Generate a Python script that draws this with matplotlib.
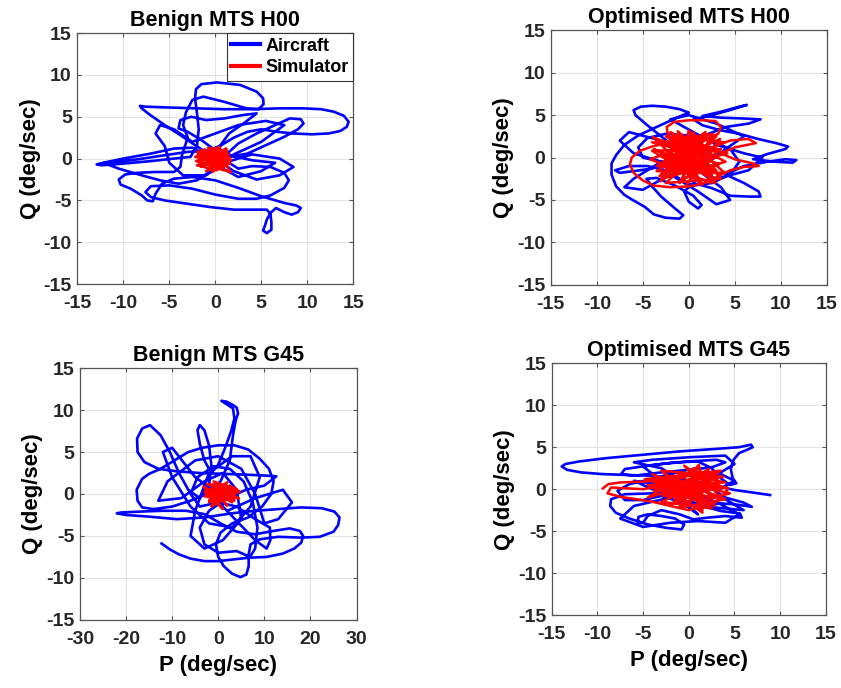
import numpy as np
import matplotlib
matplotlib.use('Agg')
import matplotlib.pyplot as plt

plt.rcParams['font.family'] = ['Liberation Sans', 'DejaVu Sans']
plt.rcParams['font.weight'] = 'bold'
plt.rcParams['axes.unicode_minus'] = False

# --- Benign MTS H00: aircraft (P, Q) trace in deg/sec
h00_benign_ac = [
    (0.5, -0.5), (-0.8, 0.6), (-2.2, 1.6), (-3.8, 2.8), (-5.5, 4.0), (-7.2, 5.3), (-8.0, 6.0), (-8.2, 6.3),
    (-7.6, 6.2), (-5.0, 6.1), (-2.0, 6.0), (1.0, 5.9), (4.0, 5.9), (7.0, 6.0), (9.6, 6.0), (11.5, 5.9),
    (12.9, 5.6), (14.0, 5.1), (14.5, 4.4), (14.3, 3.8), (13.6, 3.3), (12.3, 3.0), (10.5, 2.9), (8.5, 3.0),
    (6.7, 3.2), (5.0, 3.5), (3.5, 3.2), (2.0, 2.5), (0.5, 1.5), (-1.0, 0.9),
    (-3.0, 0.8), (-5.5, 0.4), (-8.5, -0.1), (-11.0, -0.4), (-12.6, -0.6), (-12.9, -0.7), (-12.4, -0.8),
    (-10.0, -0.6), (-7.0, -0.3), (-4.5, 0.0), (-2.7, 0.2),
    (-2.0, 1.5), (-1.8, 3.5), (-2.0, 5.5), (-2.2, 7.2), (-2.1, 8.3), (-1.5, 8.9), (0.2, 9.1), (2.7, 8.8),
    (4.5, 8.0), (5.2, 7.2), (5.25, 6.5), (4.7, 5.9), (3.4, 6.0), (0.9, 6.8), (-1.3, 7.4), (-2.5, 7.0),
    (-3.2, 5.5), (-3.5, 4.0), (-3.0, 2.5),
    (-3.6, 0.5), (-3.8, -1.0), (-4.5, -1.6), (-6.5, -1.6), (-8.5, -1.7), (-9.8, -1.9), (-10.5, -2.5),
    (-10.3, -3.1), (-9.2, -3.6), (-8.0, -4.4), (-7.4, -5.0), (-6.8, -5.1), (-6.5, -4.2), (-5.8, -3.0),
    (-4.5, -2.4), (-2.5, -2.2), (0.0, -2.6), (2.5, -3.5), (5.0, -4.5), (7.5, -5.3), (8.8, -5.6), (9.3, -5.9),
    (9.0, -6.4), (8.3, -6.7), (7.5, -6.4), (6.6, -5.9), (6.0, -6.5), (5.6, -7.3), (5.4, -8.0), (5.2, -8.6),
    (5.6, -8.9), (6.1, -8.5), (6.1, -7.6), (6.0, -6.6), (5.6, -6.1), (4.0, -6.1), (2.0, -6.1), (-0.5, -5.8),
    (-3.0, -5.4), (-5.5, -5.0), (-7.0, -4.6), (-7.6, -4.0), (-7.0, -3.3), (-5.0, -3.2), (-2.5, -3.6),
    (0.0, -4.3), (2.5, -4.8), (4.5, -4.8), (6.0, -4.4), (7.5, -3.5), (8.0, -2.6), (7.5, -1.7), (6.0, -1.0),
    (4.0, -0.9), (2.5, -1.2), (1.5, -0.5), (1.2, 0.5),
    (2.5, 1.8), (4.5, 3.0), (6.5, 4.0), (8.1, 4.8), (9.3, 4.7), (9.6, 4.2), (9.0, 3.5), (7.5, 2.6),
    (5.5, 1.6), (3.5, 0.6), (2.0, 0.3),
    (0.0, 1.0), (-1.5, 2.2), (-3.0, 3.2), (-4.0, 3.6), (-3.8, 4.6), (-2.6, 5.0), (-1.0, 4.6), (1.0, 4.8),
    (3.0, 5.2), (4.5, 5.4), (3.2, 4.3), (1.5, 3.0), (0.5, 1.5), (0.5, 0.0), (-0.5, -1.5), (-2.0, -2.6),
    (-4.0, -3.0), (-6.0, -2.6), (-8.0, -2.0), (-10.5, -1.2), (-12.2, -0.5), (-10.0, 0.0), (-7.0, 0.6),
    (-4.5, 1.2), (-2.5, 1.3), (-1.0, 0.4), (0.0, 0.0),
    (2.0, -1.5), (4.5, -2.5), (7.0, -2.0), (8.5, -1.0), (7.0, 0.0), (4.0, 0.5), (1.0, -0.5), (-1.0, -2.0),
    (-3.5, -2.0), (-5.0, -0.5), (-5.5, 1.5), (-6.5, 3.0), (-6.0, 4.0), (-4.5, 3.5), (-2.5, 2.0), (0.0, 3.0),
    (2.5, 4.0), (5.5, 4.5), (7.5, 4.0), (5.0, 2.0), (2.0, 0.5), (0.5, -1.0), (2.5, -2.2), (5.0, -1.5),
    (6.5, -0.5), (4.0, -0.2), (1.0, 0.5),
]
h00_benign_sim = [
    (-0.5, 0.0), (1.2, 1.2), (-1.8, -0.5), (0.8, -1.2), (-2.0, 0.8), (1.5, 0.3), (-1.0, -1.5), (1.6, -0.6),
    (-2.2, 0.2), (0.5, 1.4), (-1.5, -1.0), (1.3, 0.9), (-0.8, 1.3), (1.7, -0.2), (-2.0, -0.8), (0.2, -1.4),
    (-1.2, 1.1), (1.0, -0.9), (-1.9, 0.5), (1.4, 0.6), (-0.3, -1.6), (1.6, 0.1), (-1.6, 1.0), (0.9, -1.1),
    (-2.1, -0.3), (1.2, 1.1), (0.0, -1.2), (1.5, -0.4), (-1.4, 0.4), (0.6, 0.0), (1.7, -1.6), (-0.5, -1.0),
    (-1.0, 0.9), (0.4, 1.2), (-1.7, -0.2), (1.1, 0.4), (-0.6, -0.7), (0.3, 0.2),
]

# --- Optimised MTS H00
h00_opt_ac = [
    (0.0, 0.0), (-1.5, 1.2), (-3.0, 2.5), (-4.5, 3.8), (-5.8, 5.0), (-6.0, 5.6), (-5.2, 6.0), (-4.0, 6.1),
    (-2.5, 6.0), (-1.0, 5.7), (0.0, 5.3), (-1.5, 4.6), (-3.5, 3.6), (-5.5, 2.6), (-7.0, 1.5), (-7.9, 0.3),
    (-8.4, -0.7), (-8.4, -2.0), (-7.9, -3.4), (-7.0, -4.4), (-6.1, -5.0), (-4.8, -5.8), (-3.8, -6.7),
    (-2.5, -7.1), (-1.0, -7.2), (-0.6, -6.8), (-1.5, -6.0), (-3.0, -4.6), (-4.0, -3.4), (-4.6, -2.5),
    (-3.5, -2.4), (-1.5, -3.3), (0.5, -4.5), (1.4, -5.6), (1.0, -6.0), (0.0, -5.2), (-0.5, -4.0), (0.5, -3.0),
    (2.5, -3.6), (4.5, -4.5), (6.5, -4.6), (7.8, -4.6), (7.6, -4.0), (6.0, -3.0), (4.0, -2.0), (6.0, -1.0),
    (8.5, -0.5), (10.5, -0.2), (11.7, -0.3), (11.3, -0.6), (9.5, -0.5), (7.0, -0.2), (8.5, 0.4), (10.5, 1.0),
    (10.8, 1.3), (9.5, 1.7), (7.5, 2.2), (5.5, 2.8), (3.5, 3.2), (1.5, 3.8), (0.5, 4.5), (2.5, 5.0),
    (4.5, 5.6), (6.3, 6.2), (5.5, 6.0), (3.5, 5.4), (1.5, 4.9), (3.5, 4.7), (6.0, 4.6), (7.8, 4.5),
    (6.5, 4.0), (4.0, 3.6), (1.5, 2.5), (-0.5, 1.0), (-2.0, -0.5), (-4.0, -1.3), (-6.0, -1.6), (-7.5, -1.8),
    (-8.0, -1.5), (-6.5, -1.0), (-4.5, -1.0), (-2.5, -1.5), (-1.0, -2.5), (0.5, -3.3), (2.5, -3.0),
    (4.5, -2.0), (5.5, -0.5), (4.5, 1.0), (2.5, 2.0), (0.0, 2.6), (-2.5, 2.8), (-4.5, 2.3), (-5.5, 1.2),
    (-5.0, 0.0), (-3.0, -0.5), (0.0, 0.0),
    (-3.0, 2.0), (-6.5, 3.0), (-7.5, 2.0), (-6.0, 0.5), (-3.0, -0.5), (-6.0, -2.5), (-7.0, -3.5),
    (-5.0, -3.8), (-2.0, -2.0), (1.0, -4.0), (3.0, -5.5), (4.5, -5.0), (3.5, -3.5), (1.0, -1.5), (4.0, 1.0),
    (6.0, 2.5), (3.0, 4.0), (0.0, 5.0), (-2.0, 4.5), (0.5, 3.0), (3.0, 1.5), (6.0, 0.5), (8.0, 0.0),
    (6.5, -1.5), (3.0, -2.5), (0.0, -1.0),
]
h00_opt_sim = [
    (0.0, 0.0), (-1.5, 1.5), (-2.3, 2.8), (-2.4, 3.6), (-1.6, 4.2), (0.0, 4.4), (1.5, 4.4), (2.9, 4.3),
    (3.5, 3.6), (3.2, 2.8), (2.0, 2.2), (0.0, 2.0), (-2.0, 1.8), (-4.0, 1.3), (-5.3, 0.8), (-6.2, 0.0),
    (-6.4, -0.8), (-6.0, -1.8), (-5.0, -2.7), (-3.8, -3.3), (-2.0, -3.5), (0.0, -3.4), (1.8, -3.0),
    (3.2, -2.2), (4.5, -1.5), (6.0, -1.1), (7.6, -1.0), (7.0, -0.7), (5.0, -0.2), (3.5, 0.5), (5.0, 1.2),
    (7.3, 1.7), (6.5, 2.2), (4.5, 2.0), (2.5, 1.2),
    (-2.5, 2.5), (3.0, -1.5), (-3.5, -1.0), (2.0, 2.8), (-1.0, -3.0), (3.5, 1.0), (-4.0, 0.8), (1.0, -2.5),
    (-2.0, 3.0), (4.0, -0.5), (-3.0, -2.5), (0.5, 3.0), (2.5, -3.0), (-4.2, -0.2), (3.0, 2.5), (-1.5, -2.0),
    (1.5, 1.5), (-3.5, 2.0), (2.0, -1.0), (-0.5, 2.5), (3.5, -2.5), (-2.5, -3.0), (1.0, 0.5), (-4.0, 1.8),
    (4.2, 0.5), (-1.0, -1.0), (0.0, 3.2), (2.5, -2.0), (-3.0, 0.5), (1.5, -3.2), (-1.5, 1.5), (3.0, 0.0),
    (-2.0, -1.5), (0.5, 1.0), (-0.5, -0.5),
    (-3.8, 1.0), (2.8, -2.6), (-1.8, 2.6), (3.8, 1.8), (-3.2, -2.2), (0.8, 2.2), (2.2, -0.5), (-2.8, -0.6),
    (1.8, 3.0), (-0.8, -2.6), (3.3, -0.8), (-3.9, 2.4), (0.2, -1.8), (2.6, 2.8), (-2.2, 0.8), (1.2, -2.8),
    (-1.2, 3.1), (3.9, -1.8), (-3.5, -1.6), (0.6, 1.2), (2.9, -3.0), (-2.6, 1.9), (1.6, 0.2), (-0.2, -3.2),
    (3.4, 2.2), (-1.6, -0.4), (0.9, 2.6), (-3.1, -2.8), (2.1, 1.2), (0.0, 0.0),
]

# --- Benign MTS G45
g45_benign_ac = [
    (-12.3, -5.9), (-10.5, -6.6), (-8.5, -7.2), (-6.0, -7.7), (-3.0, -8.0), (0.0, -8.0), (3.2, -7.8),
    (6.5, -7.6), (10.5, -7.5), (14.0, -7.1), (16.5, -6.5), (18.0, -5.8), (18.4, -5.0), (17.7, -4.4),
    (15.5, -4.1), (12.0, -4.4), (8.0, -4.8), (4.0, -4.5), (0.5, -3.5), (-3.0, -2.4), (-7.0, -2.0),
    (-12.0, -2.0), (-17.0, -2.1), (-21.0, -2.2), (-22.0, -2.3), (-20.0, -2.5), (-15.0, -2.7), (-9.0, -3.0),
    (-3.0, -2.8), (3.0, -2.3), (8.0, -2.0), (13.0, -1.8), (18.0, -1.6), (22.5, -1.7), (25.2, -2.1),
    (26.3, -2.8), (26.0, -3.7), (25.0, -4.5), (22.0, -5.1), (18.0, -5.2), (13.0, -5.1), (9.0, -5.4),
    (7.0, -6.0), (6.6, -7.2), (6.6, -8.6), (6.1, -9.6), (4.8, -9.9), (3.0, -9.5), (1.2, -8.6), (0.0, -7.5),
    (-0.5, -6.0), (0.5, -4.6), (3.0, -3.5), (6.5, -2.8), (9.5, -1.5), (11.5, 0.0), (12.0, 1.5), (11.0, 3.0),
    (9.0, 4.2), (6.5, 5.3), (3.5, 5.8), (0.0, 5.8), (-3.5, 5.5), (-6.5, 5.0), (-9.5, 4.0), (-12.5, 3.0),
    (-15.0, 2.4), (-16.5, 1.8), (-17.7, 0.5), (-17.5, -0.8), (-16.5, -1.6), (-14.0, -1.8), (-10.0, -1.5),
    (-6.0, -0.8), (-2.5, 0.0), (0.5, 1.5), (2.5, 4.0), (3.2, 7.0), (3.8, 8.8), (4.3, 9.6), (4.0, 10.3),
    (3.2, 10.6), (1.8, 11.0), (0.7, 11.1), (1.5, 10.8), (3.2, 10.2), (3.5, 9.0), (2.8, 7.5), (1.5, 5.5),
    (0.0, 3.5), (-1.5, 2.5), (-3.0, 4.0), (-4.0, 6.0), (-4.5, 7.6), (-4.0, 8.2), (-3.0, 7.6), (-2.0, 5.8),
    (-1.5, 3.5), (-2.0, 1.0), (-4.0, -0.5), (-6.5, 0.5), (-8.5, 2.5), (-10.5, 5.0), (-12.5, 7.0),
    (-14.8, 8.2), (-16.5, 7.8), (-17.6, 6.6), (-17.5, 5.0), (-16.0, 3.8), (-13.0, 3.0), (-9.0, 2.7),
    (-4.0, 2.5), (1.0, 2.4), (6.0, 2.3), (10.0, 2.2), (12.6, 2.1), (10.0, 1.0), (6.0, 0.5), (2.0, -0.5),
    (-2.0, -2.0), (-4.0, -4.0), (-3.0, -6.0), (0.0, -7.0), (4.0, -6.8), (6.9, -7.5), (8.0, -6.5),
    (8.5, -4.0), (7.5, -1.0), (5.5, 1.5), (2.5, 3.0), (-1.0, 3.3), (-4.5, 2.0), (-6.0, 0.0), (-4.0, -1.5),
    (0.0, -1.0), (4.0, -1.5), (8.0, -3.0), (11.2, -4.0), (11.3, -5.5), (10.5, -6.5), (8.0, -5.5),
    (4.5, -3.5), (1.0, -1.5), (0.0, 0.0),
    (-5.0, 2.0), (-10.0, 5.5), (-12.0, 5.0), (-10.0, 2.0), (-6.0, -1.5), (-2.0, -3.5), (3.0, -4.0),
    (7.0, -1.5), (9.0, 2.0), (7.0, 4.5), (3.0, 4.5), (-2.0, 2.5), (-5.0, -2.0), (-6.0, -5.0), (-3.0, -6.5),
    (1.0, -5.5), (5.0, -3.0), (4.0, 0.5), (1.0, 2.5), (-3.0, 1.5), (-8.0, -0.5), (-13.0, -0.8), (-11.0, 1.5),
    (-5.0, 4.0), (0.0, 4.5), (5.0, 3.0), (8.0, 0.0), (10.0, -3.5), (13.0, -3.0), (16.0, -1.0), (14.0, 0.5),
    (8.0, -0.5), (2.0, -2.0),
]
g45_benign_sim = [
    (0.0, 0.0), (3.5, 0.8), (-2.5, 1.2), (4.5, -0.5), (-3.0, -0.3), (2.0, 1.4), (-1.5, -1.5), (4.0, 0.2),
    (-2.8, 0.5), (1.0, -1.8), (-3.2, 0.9), (3.0, -1.0), (-1.0, 1.5), (4.7, 0.3), (-2.0, -1.0), (0.5, 1.0),
    (3.5, -0.8), (-2.5, -0.2), (2.5, 1.0), (-1.0, -1.3), (4.0, 0.6), (-3.0, 0.2), (1.5, -0.5), (0.0, 1.2),
    (-2.0, -0.8), (3.0, -0.3), (-1.5, 0.6), (2.0, -1.4), (-0.5, 0.3), (1.0, 0.8), (0.5, -0.2),
]

# --- Optimised MTS G45
g45_opt_ac = [
    (8.9, -0.7), (7.0, -0.4), (5.0, -0.1), (3.0, 0.4), (1.0, 0.9), (-1.5, 1.3), (-4.0, 1.6), (-7.0, 1.7),
    (-9.5, 1.8), (-11.8, 2.0), (-13.3, 2.3), (-13.9, 2.7), (-13.5, 3.0), (-12.0, 3.3), (-9.0, 3.7),
    (-5.0, 4.1), (-1.0, 4.5), (3.0, 4.8), (5.5, 5.0), (6.8, 5.3), (7.0, 5.0), (6.4, 4.7), (5.5, 4.3),
    (4.9, 3.5), (4.6, 2.4), (4.8, 1.3), (5.2, 0.7), (4.5, 0.5), (3.5, 1.3), (2.5, 2.5), (1.0, 3.3),
    (-1.5, 3.2), (-4.5, 2.8), (-7.0, 2.4), (-7.4, 1.8), (-6.0, 1.6), (-3.0, 2.0), (0.0, 2.3), (2.5, 2.6),
    (4.0, 3.2), (3.0, 3.5), (0.0, 3.3), (-3.0, 3.0), (-5.0, 2.7), (-3.0, 1.0), (-1.0, 0.0), (-4.0, -0.5),
    (-7.0, -0.6), (-8.5, -1.2), (-8.6, -2.0), (-8.0, -2.8), (-6.5, -3.5), (-4.5, -4.2), (-2.5, -4.6),
    (-0.8, -4.8), (-0.5, -4.2), (-1.5, -3.5), (-3.0, -3.2), (-4.5, -3.0), (-5.5, -3.3), (-5.6, -4.1),
    (-5.0, -4.0), (-4.5, -3.2), (-3.0, -2.5), (-1.0, -3.0), (0.5, -3.6), (2.0, -3.4), (4.0, -3.2),
    (5.8, -3.4), (5.6, -2.9), (3.5, -2.6), (1.5, -2.0), (3.5, -1.7), (5.0, -1.8), (6.9, -2.1), (6.0, -1.6),
    (4.0, -1.0), (3.0, -0.3), (4.0, 0.4), (5.0, 1.0), (3.5, 1.8), (1.0, 1.8), (-1.5, 2.0), (-4.0, 1.2),
    (-6.5, 0.6), (-7.8, -0.2), (-7.0, -1.3), (-5.0, -1.3), (-3.0, -0.8), (-1.0, -1.5), (0.5, -2.5),
    (1.0, -3.0), (0.0, -2.2), (1.0, -0.5), (2.0, 0.5), (0.0, 0.5),
    (-3.0, 2.5), (-6.0, 3.2), (-4.0, 3.5), (0.0, 3.8), (4.0, 4.0), (5.0, 3.0), (2.0, 1.0), (-2.0, -1.0),
    (-6.0, -2.0), (-7.5, -3.5), (-5.0, -4.5), (-2.0, -4.0), (1.0, -3.8), (4.0, -4.0), (5.5, -3.0),
    (3.0, -1.5), (0.0, -0.5), (-3.0, 0.5), (-6.0, 1.0), (-4.0, 0.0), (0.0, -1.5), (3.0, -2.2), (6.0, -2.5),
    (4.0, -1.2), (1.0, 0.0),
]
g45_opt_sim = [
    (-9.4, 0.1), (-8.8, 0.6), (-7.5, 0.8), (-5.0, 0.9), (-2.0, 1.2), (0.0, 1.6), (1.1, 2.9), (1.5, 1.0),
    (3.0, 0.6), (4.3, 0.0), (3.0, -1.5), (0.0, -2.5), (-4.0, -1.5), (-7.5, -0.9), (-8.9, -0.5), (-8.5, 0.2),
    (-5.0, 0.0), (3.0, 1.5), (-3.0, -1.5), (2.5, -2.3), (-1.0, 2.0), (4.0, 0.8), (-4.5, 0.5), (1.5, -2.5),
    (0.5, 2.5), (3.5, -1.0), (-2.0, -0.5), (2.0, 2.0), (-3.5, 1.0), (1.0, -1.5), (4.5, -0.5), (-1.5, 1.0),
    (2.5, 0.5), (-0.5, -2.0), (3.0, 2.0), (-2.5, 0.0), (0.0, 0.0),
    (-4.0, 1.8), (2.0, -1.8), (-3.0, 2.2), (3.8, 1.5), (-4.5, -1.0), (1.0, 2.6), (2.8, -2.0), (-2.5, 1.6),
    (4.0, -1.2), (-1.0, -2.2), (0.5, 2.0), (-3.8, -0.2), (3.2, 0.4), (-2.0, -1.8), (1.8, 1.0), (-0.5, 2.8),
    (2.5, -1.0), (-4.8, 1.2), (3.5, 2.2), (-1.5, -1.2), (0.0, 1.2), (1.5, -2.8), (-3.2, 0.8), (4.2, 0.2),
    (-0.8, -0.5), (2.2, 2.4), (-2.8, -0.8), (0.8, -1.0),
]

panels = [
    ('Benign MTS H00', h00_benign_ac, h00_benign_sim, 15),
    ('Optimised MTS H00', h00_opt_ac, h00_opt_sim, 15),
    ('Benign MTS G45', g45_benign_ac, g45_benign_sim, 30),
    ('Optimised MTS G45', g45_opt_ac, g45_opt_sim, 15),
]
boxes = [
    [0.092, 0.587, 0.328, 0.365],
    [0.655, 0.586, 0.328, 0.370],
    [0.095, 0.099, 0.329, 0.366],
    [0.656, 0.106, 0.326, 0.366],
]

fig = plt.figure(figsize=(8.41, 6.88), dpi=100)

for i, ((title, ac, sim, plim), box) in enumerate(zip(panels, boxes)):
    ax = fig.add_axes(box)
    ac_p, ac_q = zip(*ac)
    sim_p, sim_q = zip(*sim)
    ax.plot(ac_p, ac_q, color='b', lw=1.9, solid_joinstyle='round', label='Aircraft')
    ax.plot(sim_p, sim_q, color='r', lw=1.8, solid_joinstyle='round', label='Simulator')

    ax.set_xlim(-plim, plim)
    ax.set_ylim(-15, 15)
    ax.set_xticks(np.arange(-plim, plim + 1, 10 if plim == 30 else 5))
    ax.set_yticks(np.arange(-15, 16, 5))
    ax.grid(True, color='#e3e3e3', lw=0.8)
    ax.set_axisbelow(True)
    for s in ax.spines.values():
        s.set_color('#555555')
        s.set_linewidth(0.9)
    ax.tick_params(direction='in', top=True, right=True, length=3, width=0.8,
                   color='#555555', labelsize=14, labelcolor='#262626')
    ax.tick_params(axis='x', pad=8)
    ax.tick_params(axis='y', pad=4)
    for lab in ax.get_xticklabels() + ax.get_yticklabels():
        lab.set_fontweight('bold')

    ax.set_title(title, fontsize=15.5, fontweight='bold', pad=5)
    ax.set_ylabel('Q (deg/sec)', fontsize=16, fontweight='bold', labelpad=2)
    if i >= 2:
        ax.set_xlabel('P (deg/sec)', fontsize=16, fontweight='bold', labelpad=5)
    if i == 0:
        leg = ax.legend(loc='upper right', prop={'weight': 'bold', 'size': 13},
                        frameon=True, fancybox=False, borderaxespad=0.0, handlelength=1.6,
                        handletextpad=0.3, borderpad=0.25, labelspacing=0.25, framealpha=1)
        leg.get_frame().set_edgecolor('#333333')
        leg.get_frame().set_linewidth(0.8)
        for lh in leg.get_lines():
            lh.set_linewidth(3)

fig.savefig('out.png', dpi=100)
